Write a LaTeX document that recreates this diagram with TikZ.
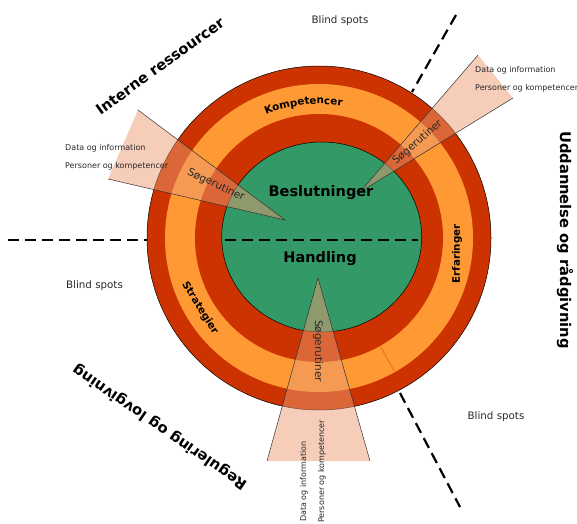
\documentclass[tikz,border=0pt]{standalone}
\usepackage{fontspec}
\setmainfont{DejaVu Sans}
\usetikzlibrary{calc,decorations.text}
\definecolor{ringred}{RGB}{204,51,0}
\definecolor{ringorange}{RGB}{255,153,51}
\definecolor{ringgreen}{RGB}{51,153,102}
\definecolor{wedgefill}{RGB}{235,155,115}
\definecolor{txtgray}{RGB}{40,40,40}
\begin{document}
\begin{tikzpicture}[x=1pt,y=1pt,
  dashline/.style={line width=2.2pt, dash pattern=on 11pt off 6pt},
  wedgearea/.style={fill=wedgefill, fill opacity=0.5},
  wedgeline/.style={draw=black!80, line width=0.5pt},
  smalltxt/.style={font=\fontsize{8}{9.6}\selectfont, text=txtgray, inner sep=0pt},
  sogtxt/.style={font=\fontsize{10.5}{12}\selectfont, text=txtgray, inner sep=0pt},
  blindtxt/.style={font=\fontsize{10.3}{12}\selectfont, text=txtgray, inner sep=0pt},
  ringtxt/.style={font=\fontsize{10.3}{12}\selectfont\bfseries, inner sep=0pt},
  maintxt/.style={font=\fontsize{14.5}{17}\selectfont\bfseries, inner sep=0pt},
  outertxt/.style={font=\fontsize{14.7}{17}\selectfont\bfseries, inner sep=0pt}]
\useasboundingbox (0,0) rectangle (577,523);
\coordinate (C) at (319,285);
\coordinate (G) at (321.7,286);
% rings
\fill[ringred, draw=black, line width=0.5pt] (C) circle[radius=172];
\fill[ringorange] (C) circle[radius=154];
\fill[ringred] (C) circle[radius=124];
\filldraw[fill=ringgreen, draw=black, line width=0.5pt] (G) ellipse[x radius=100, y radius=95];
% faint sector line on orange ring
\coordinate (f1) at ($(C)+(-60.5:125)$);
\coordinate (f2) at ($(C)+(-60.5:153)$);
\draw[ringred!60!ringorange, line width=0.5pt] (f1) -- (f2);
% dashed lines
\coordinate (h1) at (8,283);
\coordinate (h2) at (147,283);
\coordinate (h3) at (225,283);
\coordinate (h4) at (418,283);
\draw[dashline] (h1) -- (h2);
\draw[dashline] (h3) -- (h4);
\coordinate (u1) at (456,508);
\coordinate (u2) at (412,431);
\draw[dashline] (u1) -- (u2);
\coordinate (l1) at (400,130);
\coordinate (l2) at (460,16);
\draw[dashline] (l1) -- (l2);
% wedges
\coordinate (tla) at (285,303);
\coordinate (tl1) at (138,413);
\coordinate (tl2) at (108,344);
\coordinate (tra) at (360,331);
\coordinate (tr1) at (478,468);
\coordinate (tr2) at (513,425);
\coordinate (ba) at (318,245);
\coordinate (b1) at (267,62);
\coordinate (b2) at (370,62);
\fill[wedgearea] (tla) -- (tl1) -- (tl2) -- cycle;
\fill[wedgearea] (tra) -- (tr1) -- (tr2) -- cycle;
\fill[wedgearea] (ba) -- (b1) -- (b2) -- cycle;
\draw[wedgeline] (tl1) -- (tla) -- (tl2);
\draw[wedgeline] (tr1) -- (tra) -- (tr2);
\draw[wedgeline] (b1) -- (ba) -- (b2);
% wedge labels
\node[sogtxt, rotate=-25] (s1) at (216,338) {Søgerutiner};
\node[sogtxt, rotate=41] (s2) at (417.5,380.5) {Søgerutiner};
\node[sogtxt, rotate=-90] (s3) at (318,172) {Søgerutiner};
\node[smalltxt, anchor=west] (d1) at (65,375) {Data og information};
\node[smalltxt, anchor=west] (p1) at (65,357) {Personer og kompetencer};
\node[smalltxt, anchor=west] (d2) at (475,453) {Data og information};
\node[smalltxt, anchor=west] (p2) at (475,435) {Personer og kompetencer};
\node[smalltxt, anchor=west, rotate=90] (d3) at (304,1) {Data og information};
\node[smalltxt, anchor=west, rotate=90] (p3) at (322,0) {Personer og kompetencer};
% ring labels
\coordinate (ks) at ($(C)+(141.7:134)$);
\path[decorate, decoration={text along path, text align=center,
  text={|\fontsize{10.3}{12}\selectfont\bfseries|Kompetencer}}]
  (ks) arc[start angle=141.7, end angle=51.7, radius=134];
\node[ringtxt, rotate=-58] (strat) at (200,215) {Strategier};
\node[ringtxt, rotate=90] (erf) at (457,269) {Erfaringer};
% main labels
\node[maintxt] (besl) at (321,330) {Beslutninger};
\node[maintxt] (hand) at (320,264) {Handling};
% blind spots
\node[blindtxt] (bs1) at (340,502) {Blind spots};
\node[blindtxt] (bs2) at (94.5,237) {Blind spots};
\node[blindtxt] (bs3) at (496,106) {Blind spots};
% outer labels
\node[outertxt, rotate=36] (intr) at (160,457) {Interne ressourcer};
\node[outertxt, rotate=-90] (udd) at (565,283) {Uddannelse og rådgivning};
\node[outertxt, rotate=145.6] (reg) at (160,96) {Regulering og lovgivning};
\end{tikzpicture}
\end{document}
